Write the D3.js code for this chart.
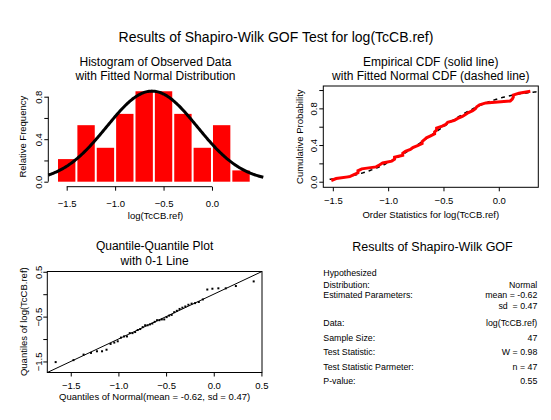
<!DOCTYPE html>
<html>
<head>
<meta charset="utf-8">
<script src="https://cdn.jsdelivr.net/npm/d3@7"></script>
<style>
  body { margin: 0; background: #fff; }
  svg { display: block; }
  text { font-family: "Liberation Sans", Arial, sans-serif; fill: #000; }
</style>
</head>
<body>
<svg id="chart" width="551" height="420"></svg>
<script>
/* DATA */
// log(TcCB.ref), sorted (47 obs)
const obs = [-1.514, -1.470, -1.347, -1.309, -1.273, -1.273, -1.238, -1.109, -1.079, -1.050,
  -0.968, -0.942, -0.942, -0.868, -0.868, -0.844, -0.799, -0.777, -0.734, -0.693,
  -0.693, -0.673, -0.654, -0.616, -0.580, -0.580, -0.562, -0.562, -0.511, -0.478,
  -0.462, -0.401, -0.371, -0.329, -0.301, -0.274, -0.236, -0.211, -0.199, -0.174,
  -0.117, 0.104, 0.122, 0.131, 0.131, 0.182, 0.285];
const histBreaks = [-1.6, -1.4, -1.2, -1.0, -0.8, -0.6, -0.4, -0.2, 0.0, 0.2, 0.4];
const histXTicks = [-1.5, -1.0, -0.5, 0.0];
const histYTicks = [0, 0.2, 0.4, 0.6, 0.8];
const cdfXTicks = [-1.5, -1.0, -0.5, 0.0];
const cdfYTicks = [0, 0.2, 0.4, 0.6, 0.8, 1.0];
const qqXTicks = [-1.5, -1.0, -0.5, 0.0, 0.5];
const qqYTicks = [-1.5, -1.0, -0.5, 0.0, 0.5];
const labeledY = [0, 0.4, 0.8];
const labeledQQY = [-1.5, -0.5, 0.5];

const resultLabels = [["Hypothesized", "Distribution:"], ["Estimated Parameters:"], ["Data:"],
  ["Sample Size:"], ["Test Statistic:"], ["Test Statistic Parmeter:"], ["P-value:"]];
const resultValues = [["", "Normal"], ["mean = -0.62", "sd  = 0.47"], ["log(TcCB.ref)"],
  ["47"], ["W = 0.98"], ["n = 47"], ["0.55"]];

/* NORMAL HELPERS */
const n = obs.length;
const mu = d3.mean(obs);
const sd = d3.deviation(obs);

function dnorm(x) {
  const z = (x - mu) / sd;
  return Math.exp(-0.5 * z * z) / (sd * Math.sqrt(2 * Math.PI));
}
function pnorm(x) {
  const z = (x - mu) / sd / Math.SQRT2;
  const t = 1 / (1 + 0.3275911 * Math.abs(z));
  const y = 1 - (((((1.061405429 * t - 1.453152027) * t) + 1.421413741) * t - 0.284496736) * t + 0.254829592) * t * Math.exp(-z * z);
  return 0.5 * (1 + (z >= 0 ? y : -y));
}
// Acklam's inverse normal
function qnormStd(p) {
  const a = [-39.69683028665376, 220.9460984245205, -275.9285104469687, 138.3577518672690, -30.66479806614716, 2.506628277459239];
  const b = [-54.47609879822406, 161.5858368580409, -155.6989798598866, 66.80131188771972, -13.28068155288572];
  const c = [-0.007784894002430293, -0.3223964580411365, -2.400758277161838, -2.549732539343734, 4.374664141464968, 2.938163982698783];
  const d = [0.007784695709041462, 0.3224671290700398, 2.445134137142996, 3.754408661907416];
  const pl = 0.02425;
  let q, r;
  if (p < pl) {
    q = Math.sqrt(-2 * Math.log(p));
    return (((((c[0]*q+c[1])*q+c[2])*q+c[3])*q+c[4])*q+c[5]) / ((((d[0]*q+d[1])*q+d[2])*q+d[3])*q+1);
  } else if (p <= 1 - pl) {
    q = p - 0.5; r = q * q;
    return (((((a[0]*r+a[1])*r+a[2])*r+a[3])*r+a[4])*r+a[5])*q / (((((b[0]*r+b[1])*r+b[2])*r+b[3])*r+b[4])*r+1);
  }
  q = Math.sqrt(-2 * Math.log(1 - p));
  return -(((((c[0]*q+c[1])*q+c[2])*q+c[3])*q+c[4])*q+c[5]) / ((((d[0]*q+d[1])*q+d[2])*q+d[3])*q+1);
}

// plotting positions (i - 0.375) / (n + 0.25)
const pp = obs.map((d, i) => (i + 1 - 0.375) / (n + 0.25));

const svg = d3.select("#chart");
const fmt = d3.format(".1f");

// rotated y tick labels, S-PLUS style
function rotateYLabels(g, keep, off) {
  g.selectAll(".tick text")
    .attr("x", 0).attr("dy", null)
    .attr("y", -off)
    .attr("text-anchor", "middle")
    .attr("transform", "rotate(-90)")
    .text(d => keep.some(k => Math.abs(k - d) < 1e-9) ? fmt(d) : "");
}
function styleAxis(g, size) {
  g.selectAll("text").style("font-size", size + "px");
  g.selectAll("line, path").attr("stroke", "#000");
}
function yTitle(x, y, txt) {
  svg.append("text")
    .attr("transform", `translate(${x},${y}) rotate(-90)`)
    .attr("text-anchor", "middle")
    .style("font-size", "9.5px")
    .text(txt);
}
function centerText(x, y, txt, size) {
  svg.append("text").attr("x", x).attr("y", y)
    .attr("text-anchor", "middle").style("font-size", size + "px").text(txt);
}

/* MAIN TITLE */
centerText(276, 42, "Results of Shapiro-Wilk GOF Test for log(TcCB.ref)", 14);

/* HISTOGRAM */
const hx = d3.scaleLinear().domain([-1.69, 0.53]).range([48.3, 263.3]);
const hy = d3.scaleLinear().domain([0, 0.8]).range([181.7, 96.7]);

const bins = d3.bin().domain([histBreaks[0], histBreaks[histBreaks.length - 1]]).thresholds(histBreaks)(obs);

svg.append("g").selectAll("rect")
  .data(bins)
  .join("rect")
  .attr("x", d => hx(d.x0) + 1)
  .attr("width", d => hx(d.x1) - hx(d.x0) - 2)
  .attr("y", d => hy(d.length / (n * (d.x1 - d.x0))))
  .attr("height", d => hy(0) - hy(d.length / (n * (d.x1 - d.x0))))
  .attr("fill", "#ff0000");

const curveX = d3.range(-1.69, 0.531, 0.01);
svg.append("path")
  .datum(curveX)
  .attr("fill", "none")
  .attr("stroke", "#000")
  .attr("stroke-width", 3)
  .attr("d", d3.line().x(d => hx(d)).y(d => hy(dnorm(d))));

const hxAxisY = hy(-0.047);
const hxAxis = svg.append("g")
  .attr("transform", `translate(0,${hxAxisY})`)
  .call(d3.axisBottom(hx).tickValues(histXTicks).tickFormat(fmt).tickSize(4).tickSizeOuter(0));
hxAxis.select(".domain").remove();
hxAxis.append("line").attr("x1", hx(histXTicks[0])).attr("x2", hx(histXTicks[histXTicks.length - 1]));
hxAxis.selectAll(".tick text").attr("y", 20).attr("dy", null);
styleAxis(hxAxis, 9.5);

const hyAxis = svg.append("g")
  .attr("transform", `translate(${hx.range()[0]},0)`)
  .call(d3.axisLeft(hy).tickValues(histYTicks).tickSize(4).tickSizeOuter(0));
hyAxis.select(".domain").remove();
hyAxis.append("line").attr("y1", hy(0)).attr("y2", hy(0.8));
rotateYLabels(hyAxis, labeledY, 6.5);
styleAxis(hyAxis, 9.5);

centerText(155.5, 66, "Histogram of Observed Data", 12);
centerText(155.5, 79.5, "with Fitted Normal Distribution", 12);
centerText(155.5, 218.5, "log(TcCB.ref)", 9.5);
yTitle(26.3, 136.7, "Relative Frequency");

/* EMPIRICAL CDF */
const cx = d3.scaleLinear().domain([-1.586, 0.357]).range([323.3, 538.3]);
const cy = d3.scaleLinear().domain([-0.061, 1.044]).range([187.3, 86]);

svg.append("rect")
  .attr("x", cx.range()[0]).attr("y", cy.range()[1])
  .attr("width", cx.range()[1] - cx.range()[0])
  .attr("height", cy.range()[0] - cy.range()[1])
  .attr("fill", "none").attr("stroke", "#000");

const cdfX = d3.range(d3.min(obs) - 0.015, 0.345, 0.01);
svg.append("path")
  .datum(cdfX)
  .attr("fill", "none")
  .attr("stroke", "#000")
  .attr("stroke-width", 1.5)
  .attr("stroke-dasharray", "4,4")
  .attr("d", d3.line().x(d => cx(d)).y(d => cy(pnorm(d))));

svg.append("path")
  .datum(obs)
  .attr("fill", "none")
  .attr("stroke", "#ff0000")
  .attr("stroke-width", 3)
  .attr("d", d3.line().x(d => cx(d)).y((d, i) => cy(pp[i])));

const cxAxis = svg.append("g")
  .attr("transform", `translate(0,${cy.range()[0]})`)
  .call(d3.axisBottom(cx).tickValues(cdfXTicks).tickFormat(fmt).tickSize(4).tickSizeOuter(0));
cxAxis.select(".domain").remove();
cxAxis.selectAll(".tick text").attr("y", 17).attr("dy", null);
styleAxis(cxAxis, 9.5);

const cyAxis = svg.append("g")
  .attr("transform", `translate(${cx.range()[0]},0)`)
  .call(d3.axisLeft(cy).tickValues(cdfYTicks).tickSize(4).tickSizeOuter(0));
cyAxis.select(".domain").remove();
rotateYLabels(cyAxis, labeledY, 6.5);
styleAxis(cyAxis, 9.5);

centerText(430.8, 66, "Empirical CDF (solid line)", 12);
centerText(430.8, 79.5, "with Fitted Normal CDF (dashed line)", 12);
centerText(430.8, 217.8, "Order Statistics for log(TcCB.ref)", 9.5);
yTitle(302.6, 136.7, "Cumulative Probability");

/* QUANTILE-QUANTILE */
const qx = d3.scaleLinear().domain([-1.746, 0.506]).range([47.3, 262]);
const qy = d3.scaleLinear().domain([-1.746, 0.506]).range([372.5, 271.5]);
const theo = pp.map(p => mu + sd * qnormStd(p));

svg.append("rect")
  .attr("x", qx.range()[0]).attr("y", qy.range()[1])
  .attr("width", qx.range()[1] - qx.range()[0])
  .attr("height", qy.range()[0] - qy.range()[1])
  .attr("fill", "none").attr("stroke", "#000");

svg.append("line")
  .attr("x1", qx(-1.746)).attr("y1", qy(-1.746))
  .attr("x2", qx(0.506)).attr("y2", qy(0.506))
  .attr("stroke", "#000").attr("stroke-width", 1);

svg.append("g").selectAll("rect")
  .data(obs)
  .join("rect")
  .attr("x", (d, i) => qx(theo[i]) - 1)
  .attr("y", d => qy(d) - 1)
  .attr("width", 2).attr("height", 2)
  .attr("fill", "#000");

const qxAxis = svg.append("g")
  .attr("transform", `translate(0,${qy.range()[0]})`)
  .call(d3.axisBottom(qx).tickValues(qqXTicks).tickFormat(fmt).tickSize(4).tickSizeOuter(0));
qxAxis.select(".domain").remove();
qxAxis.selectAll(".tick text").attr("y", 16).attr("dy", null);
styleAxis(qxAxis, 9.5);

const qyAxis = svg.append("g")
  .attr("transform", `translate(${qx.range()[0]},0)`)
  .call(d3.axisLeft(qy).tickValues(qqYTicks).tickSize(4).tickSizeOuter(0));
qyAxis.select(".domain").remove();
rotateYLabels(qyAxis, labeledQQY, 5.5);
styleAxis(qyAxis, 9.5);

centerText(154.6, 250, "Quantile-Quantile Plot", 12);
centerText(154.6, 264.5, "with 0-1 Line", 12);
centerText(154.6, 400.2, "Quantiles of Normal(mean = -0.62, sd = 0.47)", 9.5);
yTitle(26.9, 321.7, "Quantiles of log(TcCB.ref)");

/* RESULTS TEXT */
centerText(432.5, 251, "Results of Shapiro-Wilk GOF", 12.5);

const rowTop = [273, 294.3, 322.7, 337.3, 351.7, 366.7, 380.7];
const lineH = 11.5;
const res = svg.append("g").style("font-size", "8.8px");
resultLabels.forEach((lines, r) => {
  lines.forEach((t, k) => {
    res.append("text").attr("x", 323.3).attr("y", rowTop[r] + k * lineH + 3.2).text(t);
  });
  resultValues[r].forEach((t, k) => {
    res.append("text").attr("x", 537.3).attr("y", rowTop[r] + k * lineH + 3.2)
      .attr("text-anchor", "end").attr("xml:space", "preserve").style("white-space", "pre").text(t);
  });
});
</script>
</body>
</html>
